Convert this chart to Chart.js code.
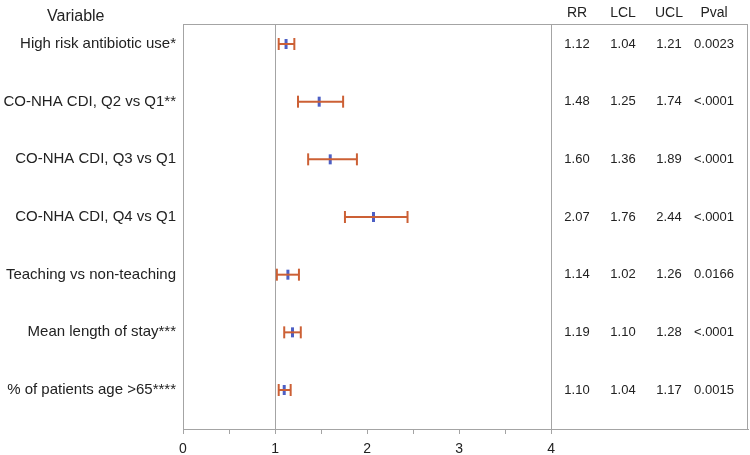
<!DOCTYPE html>
<html>
<head>
<meta charset="utf-8">
<script src="https://cdn.jsdelivr.net/npm/chart.js@4"></script>
<style>
  html, body { margin: 0; padding: 0; background: #fff; overflow: hidden; }
  #wrap { width: 750px; height: 455px; }
</style>
</head>
<body>
<div id="wrap"><canvas id="forestChart"></canvas></div>
<script>
const variables = [
    'High risk antibiotic use*',
    'CO-NHA CDI, Q2 vs Q1**',
    'CO-NHA CDI, Q3 vs Q1',
    'CO-NHA CDI, Q4 vs Q1',
    'Teaching vs non-teaching',
    'Mean length of stay***',
    '% of patients age >65****'
];
const rr = [1.12, 1.48, 1.60, 2.07, 1.14, 1.19, 1.10];
const lcl = [1.04, 1.25, 1.36, 1.76, 1.02, 1.10, 1.04];
const ucl = [1.21, 1.74, 1.89, 2.44, 1.26, 1.28, 1.17];
const pval = ['0.0023', '<.0001', '<.0001', '<.0001', '0.0166', '<.0001', '0.0015'];
const tableHeaders = ['RR', 'LCL', 'UCL', 'Pval'];
const xTicks = [0, 0.5, 1, 1.5, 2, 2.5, 3, 3.5, 4];

const orange = '#cc6035';
const blue = '#4d5fc4';
const gray = '#a4a4a4';
const font = '"Liberation Sans", Arial, sans-serif';

// one line per row for the confidence interval, capped at both ends
const ciSets = variables.map((v, i) => ({
    data: [{ x: lcl[i], y: i + 1 }, { x: ucl[i], y: i + 1 }],
    showLine: true,
    borderColor: orange,
    borderWidth: 2,
    pointStyle: 'line',
    pointRotation: 90,
    pointRadius: 6,
    pointBorderColor: orange,
    pointBorderWidth: 2
}));

const rrSet = {
    data: rr.map((v, i) => ({ x: v, y: i + 1 })),
    pointStyle: 'line',
    pointRotation: 90,
    pointRadius: 5,
    pointBorderColor: blue,
    pointBorderWidth: 3
};

// frame round the plot + table, header and the RR/LCL/UCL/Pval columns
const tablePlugin = {
    id: 'tablePlugin',
    afterDraw(chart) {
        const ctx = chart.ctx;
        const area = chart.chartArea;
        const yScale = chart.scales.y;
        ctx.save();
        ctx.strokeStyle = gray;
        ctx.lineWidth = 1;
        ctx.strokeRect(area.left + 0.5, area.top + 0.5, area.right - area.left - 1, area.bottom - area.top);

        ctx.fillStyle = '#222';
        ctx.textBaseline = 'middle';
        ctx.textAlign = 'left';
        ctx.font = '16px ' + font;
        ctx.fillText('Variable', 47, 17);

        const colX = [577, 623, 669, 714];
        ctx.textAlign = 'center';
        ctx.font = '14px ' + font;
        tableHeaders.forEach((h, j) => ctx.fillText(h, colX[j], 13));

        ctx.font = '13px ' + font;
        variables.forEach((v, i) => {
            const y = yScale.getPixelForValue(i + 1);
            const cells = [rr[i].toFixed(2), lcl[i].toFixed(2), ucl[i].toFixed(2), pval[i]];
            cells.forEach((c, j) => ctx.fillText(c, colX[j], y));
        });
        ctx.restore();
    }
};

new Chart(document.getElementById('forestChart'), {
    type: 'scatter',
    data: { datasets: [...ciSets, rrSet] },
    options: {
        responsive: true,
        maintainAspectRatio: false,
        animation: false,
        layout: { autoPadding: false, padding: { top: 24, right: 2, left: 0, bottom: 0 } },
        plugins: { legend: { display: false }, tooltip: { enabled: false } },
        scales: {
            x: {
                type: 'linear',
                min: 0,
                max: 6.14,
                afterBuildTicks: (scale) => { scale.ticks = xTicks.map(v => ({ value: v })); },
                afterFit: (scale) => {
                    scale.height = 26;
                    scale.paddingLeft = 0;
                    scale.paddingRight = 0;
                },
                ticks: {
                    autoSkip: false,
                    maxRotation: 0,
                    padding: 7,
                    color: '#222',
                    font: { family: font, size: 14 },
                    callback: (v) => Number.isInteger(v) ? String(v) : ''
                },
                grid: {
                    color: (c) => (c.tick && (c.tick.value === 1 || c.tick.value === 4)) ? gray : 'rgba(0,0,0,0)',
                    tickColor: gray,
                    tickLength: 5,
                    lineWidth: 1
                },
                border: { color: gray }
            },
            y: {
                type: 'linear',
                reverse: true,
                min: 0.653,
                max: 7.676,
                afterBuildTicks: (scale) => { scale.ticks = variables.map((v, i) => ({ value: i + 1 })); },
                afterFit: (scale) => { scale.width = 183; },
                ticks: {
                    autoSkip: false,
                    padding: 7,
                    color: '#222',
                    font: { family: font, size: 15 },
                    callback: (v) => variables[v - 1]
                },
                grid: { display: false, drawTicks: false },
                border: { color: gray }
            }
        }
    },
    plugins: [tablePlugin]
});
</script>
</body>
</html>
